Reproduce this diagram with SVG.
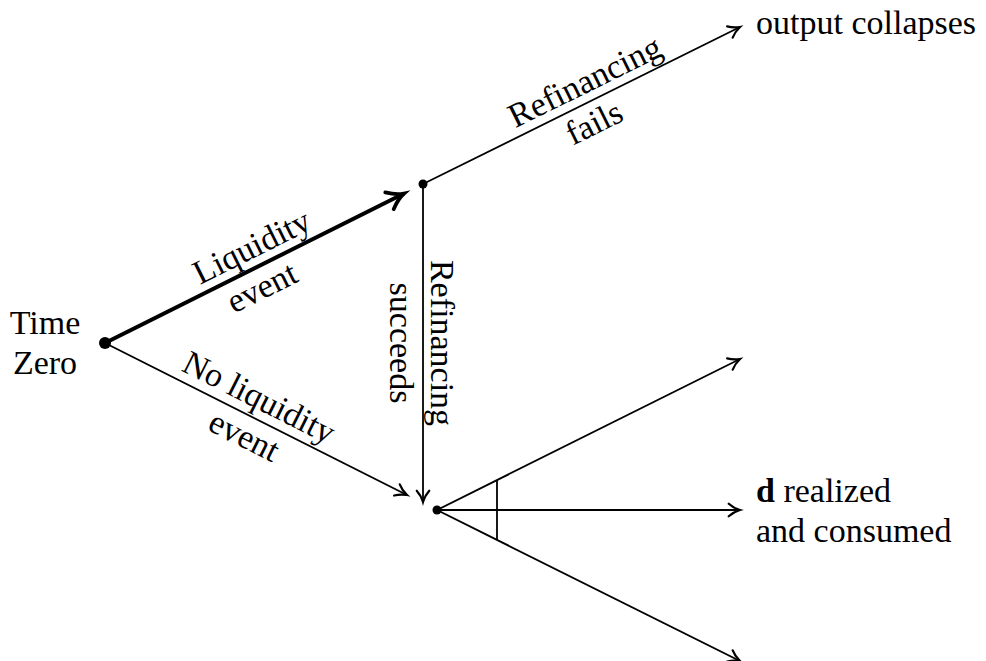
<svg xmlns="http://www.w3.org/2000/svg" width="986" height="661" viewBox="0 0 986 661">
<defs>
<style>
text{font-family:"Liberation Serif","DejaVu Serif",serif;font-size:34px;fill:#000}
.c{text-anchor:middle}
.e{fill:none;stroke:#000;stroke-width:1.8}
.thick{stroke-width:4}
.d{fill:#000}
</style>
<marker id="a" markerUnits="userSpaceOnUse" orient="auto" refX="0" refY="0" markerWidth="20" markerHeight="20" viewBox="-12 -8 14 16" overflow="visible">
<path d="M -9 -5 C -6 -2.3 -2 -0.6 0 0 C -2 0.6 -6 2.3 -9 5" fill="none" stroke="#000" stroke-width="1.8" stroke-linecap="round"/>
</marker>
<marker id="ab" markerUnits="userSpaceOnUse" orient="auto" refX="0" refY="0" markerWidth="30" markerHeight="30" viewBox="-18 -12 20 24" overflow="visible">
<path d="M -13 -7.5 C -8 -3.3 -3 -0.8 0 0 C -3 0.8 -8 3.3 -13 7.5" fill="none" stroke="#000" stroke-width="3" stroke-linecap="round"/>
</marker>
</defs>
<g id="connectors">
<line class="e thick" x1="105" y1="343" x2="404" y2="193.5" marker-end="url(#ab)"/>
<line class="e" x1="105" y1="343" x2="407" y2="495" marker-end="url(#a)"/>
<line class="e" x1="423" y1="184" x2="423" y2="502" marker-end="url(#a)"/>
<line class="e" x1="423" y1="184" x2="740" y2="27" marker-end="url(#a)"/>
<line class="e" x1="437" y1="510" x2="740" y2="359" marker-end="url(#a)"/>
<line class="e" x1="437" y1="510" x2="740" y2="510" marker-end="url(#a)"/>
<line class="e" x1="437" y1="510" x2="740" y2="661" marker-end="url(#a)"/>
<line class="e" x1="497" y1="480" x2="497" y2="540"/>
<g transform="translate(258,266) rotate(-26.57)"><text class="c" x="3" y="-9">Liquidity</text><text class="c" x="-6" y="32">event</text></g>
<g transform="translate(250,415.5) rotate(26.7)"><text class="c" y="-9">No liquidity</text><text class="c" x="4" y="32">event</text></g>
<g transform="translate(592,100.5) rotate(-26.3)"><text class="c" x="2" y="-9">Refinancing</text><text class="c" x="-8" y="32">fails</text></g>
<g transform="translate(423,343) rotate(90)"><text class="c" y="-8">Refinancing</text><text class="c" y="33">succeeds</text></g>
</g>
<g id="time-zero"><circle class="d" cx="105" cy="343" r="6"/><text class="c" x="45" y="334">Time</text><text class="c" x="45" y="374">Zero</text></g>
<g id="node-liquidity"><circle class="d" cx="423" cy="184" r="4.5"/></g>
<g id="node-noliquidity"><circle class="d" cx="437" cy="510" r="4.5"/></g>
<g id="outcome-collapse"><text x="756" y="34">output collapses</text></g>
<g id="outcome-realized"><text x="756" y="502"><tspan font-weight="bold">d</tspan> realized</text><text x="756" y="542">and consumed</text></g>
</svg>
